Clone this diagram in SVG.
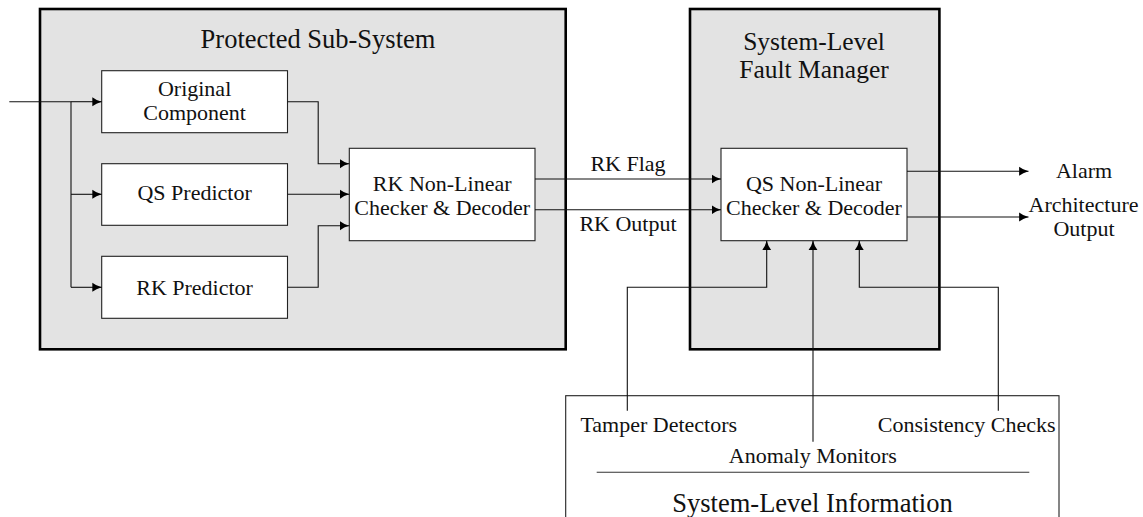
<svg xmlns="http://www.w3.org/2000/svg" width="1143" height="517" viewBox="0 0 1143 517">
  <style>
    .frame { fill: #e3e3e3; stroke: #000; stroke-width: 2.6; }
    .block { fill: #fff; stroke: #222; stroke-width: 1.1; }
    .info { fill: #fff; stroke: #222; stroke-width: 1.1; }
    .wire { fill: none; stroke: #111; stroke-width: 1.1; }
    .wire.arrow { marker-end: url(#tip); }
    .sep { stroke: #333; stroke-width: 1.1; }
    text { font-family: "Liberation Serif", "DejaVu Serif", serif; fill: #111; text-anchor: middle; }
    .title { font-size: 26.5px; }
    .title2 { font-size: 25.5px; }
    .lbl { font-size: 22px; }
  </style>
  <defs>
    <marker id="tip" markerUnits="userSpaceOnUse" markerWidth="10" markerHeight="10" viewBox="0 -4 8 8" refX="7.5" refY="0" orient="auto">
      <path d="M0,-3.6 Q3,-1.2 7.5,0 Q3,1.2 0,3.6 z" fill="#000"/>
    </marker>
  </defs>

  <!-- container frames -->
  <g id="protected-subsystem">
    <rect class="frame" x="40" y="9" width="525.7" height="340.3"/>
    <text class="title" x="318" y="47.7">Protected Sub-System</text>
  </g>
  <g id="fault-manager">
    <rect class="frame" x="690" y="9" width="249.4" height="340.3"/>
    <text class="title2" x="814" y="49.7">System-Level</text>
    <text class="title2" x="814" y="78">Fault Manager</text>
  </g>

  <!-- blocks inside the protected sub-system -->
  <g id="original-component">
    <rect class="block" x="101.7" y="70.7" width="185.8" height="62"/>
    <text class="lbl" x="194.6" y="95.7">Original</text>
    <text class="lbl" x="194.6" y="120.1">Component</text>
  </g>
  <g id="qs-predictor">
    <rect class="block" x="101.7" y="163.7" width="185.8" height="61.6"/>
    <text class="lbl" x="194.6" y="200.2">QS Predictor</text>
  </g>
  <g id="rk-predictor">
    <rect class="block" x="101.7" y="256.3" width="185.8" height="62"/>
    <text class="lbl" x="194.6" y="295">RK Predictor</text>
  </g>
  <g id="rk-checker">
    <rect class="block" x="349.3" y="148.3" width="185.7" height="92.4"/>
    <text class="lbl" x="442.2" y="190.7">RK Non-Linear</text>
    <text class="lbl" x="442.2" y="215.1">Checker &amp; Decoder</text>
  </g>

  <!-- checker inside the fault manager -->
  <g id="qs-checker">
    <rect class="block" x="721" y="148.3" width="186" height="92.4"/>
    <text class="lbl" x="814" y="190.7">QS Non-Linear</text>
    <text class="lbl" x="814" y="215.1">Checker &amp; Decoder</text>
  </g>

  <!-- system-level information panel -->
  <g id="system-info">
    <rect class="info" x="565.7" y="395.7" width="493.3" height="140"/>
    <line class="sep" x1="596.7" y1="472.3" x2="1029.3" y2="472.3"/>
    <text class="lbl" x="658.8" y="432.3">Tamper Detectors</text>
    <text class="lbl" x="812.8" y="462.7">Anomaly Monitors</text>
    <text class="lbl" x="966.7" y="432.3">Consistency Checks</text>
    <text class="title" x="812.5" y="511.7">System-Level Information</text>
  </g>

  <!-- outputs -->
  <g id="alarm">
    <text class="lbl" x="1084" y="178.3">Alarm</text>
  </g>
  <g id="architecture-output">
    <text class="lbl" x="1083.5" y="211.5">Architecture</text>
    <text class="lbl" x="1084" y="235.9">Output</text>
  </g>

  <!-- connectors -->
  <g id="connectors">
    <!-- input fan-out -->
    <polyline class="wire" points="9.3,101.7 71,101.7"/>
    <polyline class="wire arrow" points="71,101.7 101.7,101.7"/>
    <polyline class="wire" points="71,101.7 71,287.3"/>
    <polyline class="wire arrow" points="71,194.3 101.7,194.3"/>
    <polyline class="wire arrow" points="71,287.3 101.7,287.3"/>

    <!-- predictors into RK checker -->
    <polyline class="wire arrow" points="287.5,101.7 318.2,101.7 318.2,163.7 349.3,163.7"/>
    <polyline class="wire arrow" points="287.5,194.3 349.3,194.3"/>
    <polyline class="wire arrow" points="287.5,287.3 318.2,287.3 318.2,225.7 349.3,225.7"/>

    <!-- RK checker into QS checker -->
    <polyline class="wire arrow" points="535,179 721,179"/>
    <polyline class="wire arrow" points="535,209.7 721,209.7"/>
    <text class="lbl" x="628" y="170.5">RK Flag</text>
    <text class="lbl" x="628" y="231">RK Output</text>

    <!-- QS checker outputs -->
    <polyline class="wire arrow" points="907,171.3 1028.5,171.3"/>
    <polyline class="wire arrow" points="907,217 1028.5,217"/>

    <!-- system-level information feeds -->
    <polyline class="wire arrow" points="627.3,410.7 627.3,287.3 766.7,287.3 766.7,240.7"/>
    <polyline class="wire arrow" points="813,441.7 813,240.7"/>
    <polyline class="wire arrow" points="998.3,410.7 998.3,287.3 859.3,287.3 859.3,240.7"/>
  </g>
</svg>
